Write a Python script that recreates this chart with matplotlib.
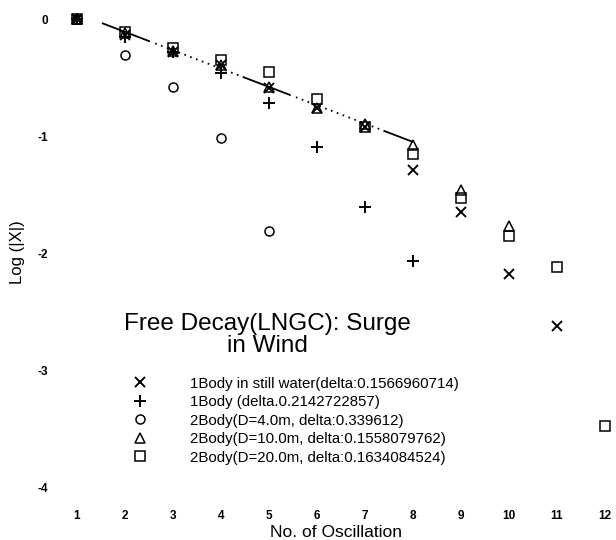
import numpy as np
import matplotlib
matplotlib.use('Agg')
import matplotlib.pyplot as plt

plt.rcParams['font.family'] = ['Liberation Sans', 'DejaVu Sans']
plt.rcParams['lines.scale_dashes'] = False

# oscillation number and log amplitudes
osc = np.arange(1, 13)
still_water = [0, -0.14, -0.28, -0.39, -0.59, -0.76, -0.92, -1.29, -1.65, -2.18, -2.62, np.nan]
one_body = [0, -0.15, -0.28, -0.46, -0.72, -1.09, -1.61, -2.07, np.nan, np.nan, np.nan, np.nan]
d4 = [0, -0.31, -0.58, -1.02, -1.81, np.nan, np.nan, np.nan, np.nan, np.nan, np.nan, np.nan]
d10 = [0, -0.12, -0.27, -0.39, -0.58, -0.76, -0.90, -1.08, -1.46, -1.77, np.nan, np.nan]
d20 = [0, -0.11, -0.25, -0.35, -0.45, -0.68, -0.92, -1.15, -1.53, -1.85, -2.12, -3.48]

fit_x = [1.52, 8.0]
fit_y = [-0.034, -1.05]

labels = ['1Body in still water(delta:0.1566960714)',
          '1Body (delta.0.2142722857)',
          '2Body(D=4.0m, delta:0.339612)',
          '2Body(D=10.0m, delta:0.1558079762)',
          '2Body(D=20.0m, delta:0.1634084524)']

fig = plt.figure(figsize=(6.16, 5.4), dpi=100)
ax = fig.add_axes([0.0938, 0.0656, 0.9039, 0.925])

ax.plot(fit_x, fit_y, color='black', lw=1.3,
        dashes=[37, 4] + [1.2, 3.3] * 17 + [75, 15, 25, 5])

ax.plot(osc, still_water, 'x', color='black', ms=7, mew=1.4, label=labels[0], ls='none')
ax.plot(osc, one_body, '+', color='black', ms=8, mew=1.4, label=labels[1], ls='none')
ax.plot(osc, d4, 'o', mfc='none', mec='black', ms=6.5, mew=1.1, label=labels[2], ls='none')
ax.plot(osc, d10, '^', mfc='none', mec='black', ms=7, mew=1.1, label=labels[3], ls='none')
ax.plot(osc, d20, 's', mfc='none', mec='black', ms=7, mew=1.1, label=labels[4], ls='none')

ax.set_xlim(0.6, 12.2)
ax.set_ylim(-4.15, 0.12)
ax.set_xticks(osc)
ax.set_yticks([0, -1, -2, -3, -4])
ax.set_yticklabels(['0', '-1', '-2', '-3', '-4'])
ax.tick_params(length=0, labelsize=8.5)
ax.tick_params(axis='x', pad=4)
ax.tick_params(axis='y', pad=7)
for t in ax.get_xticklabels() + ax.get_yticklabels():
    t.set_fontweight('bold')
for s in ax.spines.values():
    s.set_visible(False)

ax.set_xlabel('No. of Oscillation', fontsize=12.5)
ax.xaxis.set_label_coords(0.5, -0.0555)
ax.xaxis.label.set_va('center')
ax.set_ylabel('Log (|X|)', fontsize=12)
ax.yaxis.set_label_coords(-0.0715, 0.506)
ax.yaxis.label.set_va('center')

ax.text(0.376, 0.339, 'Free Decay(LNGC): Surge\nin Wind', transform=ax.transAxes,
        ha='center', va='center', multialignment='center', fontsize=17.5, linespacing=1.0)

ax.legend(loc='upper left', bbox_to_anchor=(0.135, 0.256), frameon=False,
          fontsize=10.8, handlelength=1.0, handletextpad=2.8, labelspacing=0.3,
          borderpad=0, borderaxespad=0)

fig.savefig('out.png', dpi=100)
